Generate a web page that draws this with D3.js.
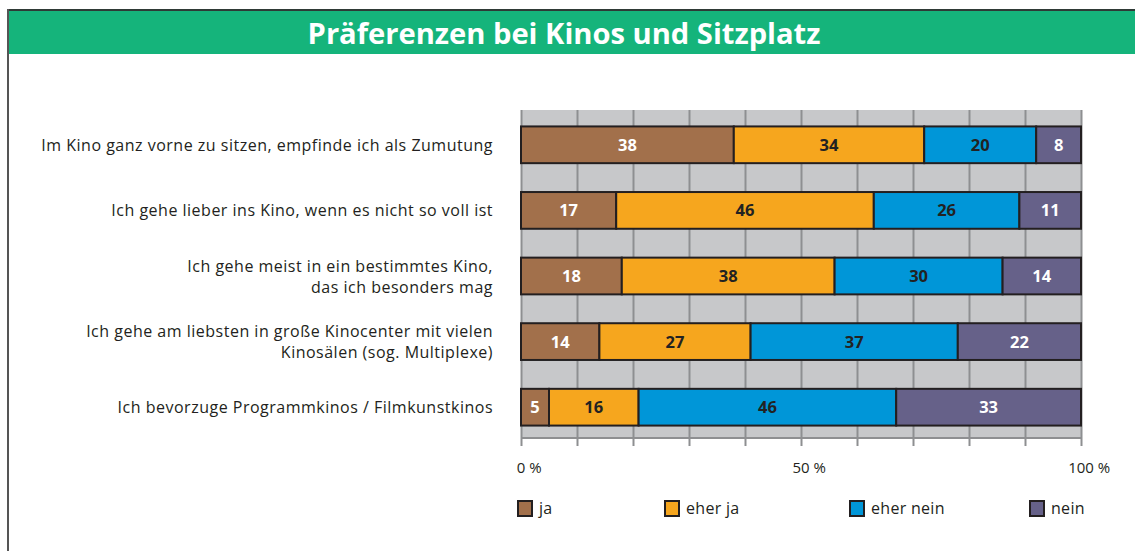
<!DOCTYPE html>
<html lang="de">
  <head>
    <meta charset="UTF-8" />
    <title>Präferenzen bei Kinos und Sitzplatz</title>
    <script src="https://cdnjs.cloudflare.com/ajax/libs/d3/7.8.5/d3.min.js"></script>
    <style>
      body { margin: 0; background: #fff; }
      svg { display: block; font-family: "Open Sans", "Noto Sans", sans-serif; }
    </style>
  </head>
  <body>
    <div id="chart"></div>
    <script>
      /** Data */
      const title = "Präferenzen bei Kinos und Sitzplatz";
      const categories = [
        ["Im Kino ganz vorne zu sitzen, empfinde ich als Zumutung"],
        ["Ich gehe lieber ins Kino, wenn es nicht so voll ist"],
        ["Ich gehe meist in ein bestimmtes Kino,", "das ich besonders mag"],
        ["Ich gehe am liebsten in große Kinocenter mit vielen", "Kinosälen (sog. Multiplexe)"],
        ["Ich bevorzuge Programmkinos / Filmkunstkinos"],
      ];
      const seriesNames = ["ja", "eher ja", "eher nein", "nein"];
      const ja = [38, 17, 18, 14, 5];
      const eherJa = [34, 46, 38, 27, 16];
      const eherNein = [20, 26, 30, 37, 46];
      const nein = [8, 11, 14, 22, 33];
      const tickLabels = [0, 50, 100];

      /** Styles */
      const colors = ["#a2704b", "#f6a61e", "#0096d8", "#666189"];
      const labelColors = ["#fff", "#222", "#222", "#fff"];
      const width = 1135;
      const height = 551;
      const plotTop = 110;
      const plotBottom = 438;

      const series = [ja, eherJa, eherNein, nein];
      const rows = categories.map((c, i) => ({ id: i, label: c, values: series.map((s) => s[i]) }));
      const stack = d3.stack().keys([0, 1, 2, 3]).value((d, k) => d.values[k])(rows);

      const x = d3.scaleLinear().domain([0, 100]).range([521, 1081]);
      const y = d3
        .scaleBand()
        .domain(rows.map((d) => d.id))
        .range([112, 440])
        .paddingInner(0.44)
        .paddingOuter(0.22);

      const svg = d3.select("#chart").append("svg").attr("width", width).attr("height", height);

      /** Frame + header */
      svg.append("rect").attr("x", 9).attr("y", 11).attr("width", width - 9).attr("height", 43).attr("fill", "#15b47b");
      svg.append("line").attr("x1", 7).attr("x2", width).attr("y1", 10).attr("y2", 10).attr("stroke", "#2f3a36").attr("stroke-width", 2);
      svg.append("line").attr("x1", 8).attr("x2", 8).attr("y1", 9).attr("y2", height).attr("stroke", "#555").attr("stroke-width", 2);

      const titleText = svg
        .append("text")
        .attr("x", 0)
        .attr("y", 44)
        .attr("fill", "#fff")
        .attr("font-weight", 700)
        .attr("font-size", 29)
        .attr("text-anchor", "middle")
        .text(title);
      const tw = titleText.node().getComputedTextLength();
      titleText.attr("transform", `translate(564,0) scale(${513 / tw},1)`);

      /** Plot background + grid */
      svg.append("rect").attr("x", x(0)).attr("y", plotTop).attr("width", x(100) - x(0)).attr("height", plotBottom - plotTop).attr("fill", "#c7c8ca");

      const grid = svg
        .append("g")
        .attr("transform", `translate(0,${plotTop})`)
        .call(d3.axisBottom(x).tickValues(d3.range(0, 101, 10)).tickSize(plotBottom - plotTop + 8).tickFormat(""));
      grid.select(".domain").remove();
      grid.selectAll(".tick line").attr("stroke", "#8e8f91").attr("stroke-width", 2);

      svg.append("line").attr("x1", x(0)).attr("x2", x(100)).attr("y1", plotBottom).attr("y2", plotBottom).attr("stroke", "#8e8f91").attr("stroke-width", 2);

      /** Bars */
      const layers = svg.selectAll(".layer").data(stack).enter().append("g").attr("class", "layer");
      layers
        .selectAll("rect")
        .data((d) => d)
        .enter()
        .append("rect")
        .attr("x", (d) => x(d[0]))
        .attr("y", (d) => y(d.data.id))
        .attr("width", (d) => x(d[1]) - x(d[0]))
        .attr("height", y.bandwidth())
        .attr("fill", function () { return colors[d3.select(this.parentNode).datum().key]; })
        .attr("stroke", "#231f20")
        .attr("stroke-width", 2);

      layers
        .selectAll("text")
        .data((d) => d.map((v) => ({ v, key: d.key })))
        .enter()
        .append("text")
        .attr("x", (d) => (x(d.v[0]) + x(d.v[1])) / 2)
        .attr("y", (d) => y(d.v.data.id) + y.bandwidth() / 2 + 6)
        .attr("text-anchor", "middle")
        .attr("font-size", 16.5)
        .attr("font-weight", 700)
        .attr("fill", (d) => labelColors[d.key])
        .text((d) => d.v[1] - d.v[0]);

      /** Category labels */
      const catText = svg
        .selectAll(".cat")
        .data(rows)
        .enter()
        .append("text")
        .attr("class", "cat")
        .attr("text-anchor", "end")
        .attr("font-size", 16)
        .attr("letter-spacing", 0.5)
        .attr("fill", "#231f20");
      catText
        .selectAll("tspan")
        .data((d) => d.label.map((l, i) => ({ l, i, n: d.label.length, id: d.id })))
        .enter()
        .append("tspan")
        .attr("x", 493)
        .attr("y", (d) => y(d.id) + y.bandwidth() / 2 + 6 + (d.i - (d.n - 1) / 2) * 21)
        .text((d) => d.l);

      /** Tick labels */
      tickLabels.forEach((t) => {
        const num = svg.append("text").attr("x", x(t)).attr("y", 473).attr("font-size", 15).attr("fill", "#231f20").attr("text-anchor", "middle").text(t);
        const bb = num.node().getBBox();
        svg.append("text").attr("x", bb.x + bb.width).attr("y", 473).attr("font-size", 15).attr("fill", "#231f20").text("\u00a0%");
      });

      /** Legend */
      const legendX = [518, 665, 850, 1030];
      const legend = svg.selectAll(".legend").data(seriesNames).enter().append("g").attr("class", "legend")
        .attr("transform", (d, i) => `translate(${legendX[i]},501)`);
      legend.append("rect").attr("width", 14).attr("height", 15).attr("fill", (d, i) => colors[i]).attr("stroke", "#231f20").attr("stroke-width", 2);
      legend.append("text").attr("x", 21).attr("y", 13).attr("font-size", 16).attr("letter-spacing", 0.3).attr("fill", "#231f20").text((d) => d);
    </script>
  </body>
</html>
